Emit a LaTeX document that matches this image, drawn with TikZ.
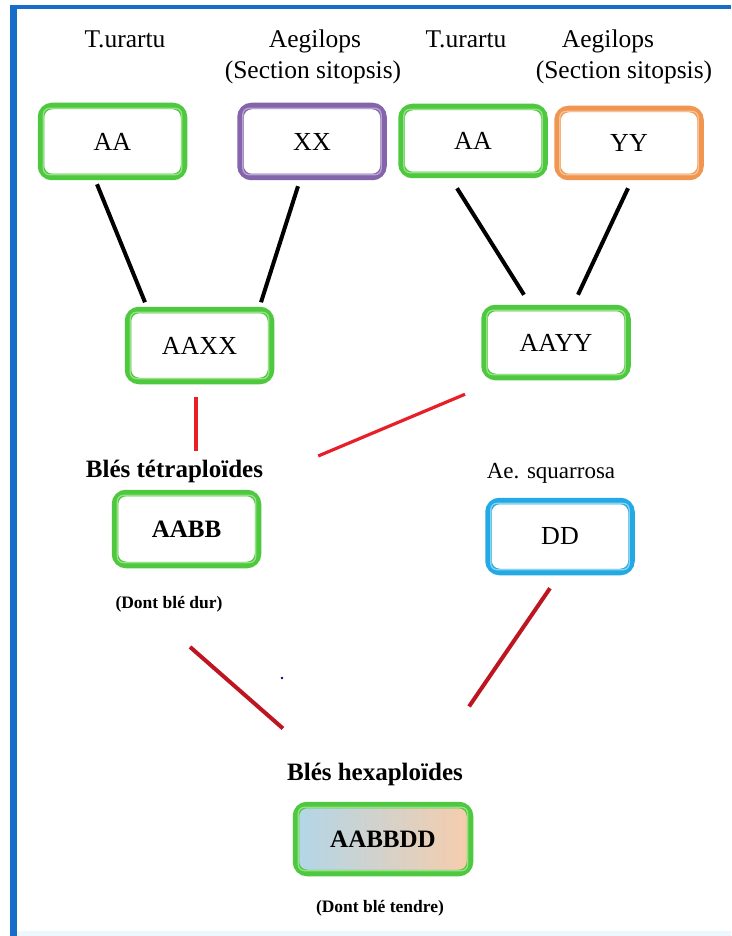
\documentclass[tikz,border=0pt]{standalone}
\usepackage{fontspec}
\setmainfont{Liberation Serif}
\usetikzlibrary{calc}
\definecolor{gA}{RGB}{78,200,62}
\definecolor{gL}{RGB}{150,225,135}
\definecolor{pA}{RGB}{132,100,170}
\definecolor{pL}{RGB}{185,165,210}
\definecolor{oA}{RGB}{240,150,80}
\definecolor{oL}{RGB}{245,195,150}
\definecolor{bA}{RGB}{35,170,228}
\definecolor{bL}{RGB}{140,210,240}
\definecolor{frameblue}{RGB}{22,110,200}
\definecolor{redA}{RGB}{232,30,40}
\definecolor{redB}{RGB}{190,22,32}
\definecolor{gradL}{RGB}{178,214,232}
\definecolor{gradR}{RGB}{247,205,172}
\begin{document}
\begin{tikzpicture}[x=1pt,y=-1pt,
  gbox/.style={draw=gA, line width=6.5pt, rounded corners=11pt, fill=white,
    minimum width=143pt, minimum height=71pt, inner sep=0pt,
    font=\fontsize{26}{28}\selectfont},
  lbl/.style={font=\fontsize{25.5}{28}\selectfont, inner sep=0pt, anchor=base},
  blbl/.style={font=\fontsize{25}{28}\selectfont\bfseries, inner sep=0pt, anchor=base},
  slbl/.style={font=\fontsize{17.5}{20}\selectfont\bfseries, inner sep=0pt, anchor=base},
  blk/.style={line width=4pt, black},
  redl/.style={line width=3.2pt, redA},
  dredl/.style={line width=4pt, redB}]
\fill[white] (0,0) rectangle (731,936);
\useasboundingbox (0,0) rectangle (731,936);
% frame
\fill[frameblue] (10,5) rectangle (731,9.5);
\fill[frameblue] (10,5) rectangle (16.5,936);
\fill[cyan!8] (16.5,931) rectangle (731,936);

% top labels
\node[lbl] (tu1) at (125,48) {T.urartu};
\node[lbl] (ae1) at (315,48) {Aegilops};
\node[lbl] (se1) at (313,79) {(Section sitopsis)};
\node[lbl] (tu2) at (466,48) {T.urartu};
\node[lbl] (ae2) at (608,48) {Aegilops};
\node[lbl] (se2) at (624,79) {(Section sitopsis)};

% boxes
\node[gbox] (AA1) at (112.5,141.5) {AA};
\node[gbox, draw=pA] (XX) at (312,141.5) {XX};
\node[gbox, minimum height=68pt] (AA2) at (473,141) {AA};
\node[gbox, draw=oA, minimum height=68pt] (YY) at (629,143) {YY};
\node[gbox] (AAXX) at (199.5,345.5) {AAXX};
\node[gbox, minimum height=69pt] (AAYY) at (556,342.5) {AAYY};
\node[gbox, font=\fontsize{25}{28}\selectfont\bfseries, minimum height=72pt] (AABB) at (186.5,529) {AABB};
\node[gbox, draw=bA] (DD) at (560,536.5) {DD};
\node[gbox, left color=gradL, right color=gradR, minimum width=174pt, minimum height=68pt,
  font=\fontsize{25}{28}\selectfont\bfseries] (AABBDD) at (383,839) {AABBDD};

% inner lines
\foreach \n/\c in {AA1/gL, XX/pL, AA2/gL, YY/oL, AAXX/gL, AAYY/gL, AABB/gL, DD/bL, AABBDD/gL}
  \draw[\c, line width=1.3pt, rounded corners=6pt]
    ([shift={(5.6pt,-5.6pt)}]\n.north west) rectangle ([shift={(-5.6pt,5.6pt)}]\n.south east);

% other labels
\node[blbl] (tetra) at (174.5,477) {Blés tétraploïdes};
\node[slbl] (dur) at (169,608) {(Dont blé dur)};
\node[lbl, font=\fontsize{23}{26}\selectfont] (squa) at (551,478) {Ae. squarrosa};
\node[blbl] (hexa) at (375,780) {Blés hexaploïdes};
\node[slbl] (tendre) at (380,912) {(Dont blé tendre)};

% black connectors
\draw[blk] ($(AA1.south)+(-15.5,4)$) -- ($(AAXX.north)+(-54.5,-4.5)$);
\draw[blk] ($(XX.south)+(-14,6)$) -- ($(AAXX.north)+(61.5,-4.5)$);
\draw[blk] ($(AA2.south)+(-16,10)$) -- ($(AAYY.north)+(-32,-10)$);
\draw[blk] ($(YY.south)+(-1,8)$) -- ($(AAYY.north)+(22,-10)$);

% red connectors
\draw[redl] ($(AAXX.south)+(-3.5,13)$) -- ($(tetra.north)+(21.5,-8)$);
\draw[redl] ($(AAYY.south)+(-91,14)$) -- ($(tetra.east)+(55,-15)$);
\draw[dredl] ($(dur.south)+(21,35)$) -- ($(hexa.north west)+(-4,-34)$);
\draw[dredl] ($(DD.south)+(-10,13)$) -- ($(hexa.north east)+(6,-56)$);

% stray dot
\fill[blue!50!black] (282,678) circle (1.4);
\end{tikzpicture}
\end{document}
